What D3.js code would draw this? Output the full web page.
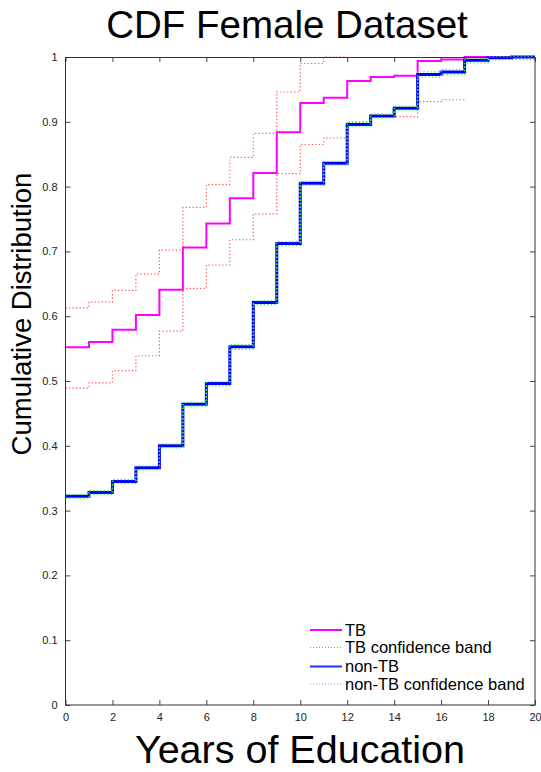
<!DOCTYPE html>
<html>
<head>
<meta charset="utf-8">
<script src="https://cdn.jsdelivr.net/npm/d3@7"></script>
<style>
  body { margin: 0; background: #fff; }
  svg { display: block; font-family: Arial, "Liberation Sans", sans-serif; }
</style>
</head>
<body>
<div id="chart"></div>
<script>
// values per one-year step, the step starting at years[i]
var years = [0, 1, 2, 3, 4, 5, 6, 7, 8, 9, 10, 11, 12, 13, 14, 15, 16, 17, 18, 19, 20];
var tbCdf = [0.552, 0.560, 0.579, 0.602, 0.641, 0.706, 0.743, 0.782, 0.821, 0.884,
             0.929, 0.937, 0.963, 0.969, 0.971, 0.994, 0.996, 1, 1, 1];
var tbUpper = [0.613, 0.622, 0.640, 0.665, 0.702, 0.768, 0.803, 0.845, 0.882, 0.946,
               0.990, 1];
var tbLower = [0.489, 0.497, 0.516, 0.539, 0.577, 0.643, 0.679, 0.718, 0.758, 0.820,
               0.865, 0.875, 0.900, 0.907, 0.908, 0.931, 0.934];
var nonTbCdf = [0.322, 0.328, 0.345, 0.366, 0.400, 0.464, 0.496, 0.553, 0.621, 0.712,
                0.805, 0.836, 0.896, 0.909, 0.921, 0.973, 0.977, 0.995, 0.999, 1];
var nonTbUpper = [0.325, 0.331, 0.348, 0.369, 0.403, 0.467, 0.499, 0.556, 0.624, 0.715,
                  0.808, 0.839, 0.899, 0.912, 0.924, 0.977, 0.981, 0.998, 1, 1];
var nonTbLower = [0.319, 0.325, 0.342, 0.363, 0.397, 0.461, 0.493, 0.549, 0.618, 0.709,
                  0.802, 0.833, 0.893, 0.906, 0.918, 0.969, 0.973, 0.991, 0.996, 0.996];
var xTicks = [0, 2, 4, 6, 8, 10, 12, 14, 16, 18, 20];
var yTicks = [0, 0.1, 0.2, 0.3, 0.4, 0.5, 0.6, 0.7, 0.8, 0.9, 1];
var legendLabels = ["TB", "TB confidence band", "non-TB", "non-TB confidence band"];

var W = 541, H = 772;
var svg = d3.select("#chart").append("svg").attr("width", W).attr("height", H);

var x = d3.scaleLinear().domain([0, 20]).range([65.5, 535]);
var y = d3.scaleLinear().domain([0, 1]).range([705, 57]);

// title + axis labels
svg.append("text").attr("x", 287).attr("y", 38).attr("text-anchor", "middle")
    .attr("font-size", 38.5).text("CDF Female Dataset");
svg.append("text").attr("x", 300).attr("y", 763).attr("text-anchor", "middle")
    .attr("font-size", 39.5).text("Years of Education");
svg.append("text").attr("transform", "translate(31,314) rotate(-90)")
    .attr("text-anchor", "middle").attr("font-size", 27.5).text("Cumulative Distribution");

// axes, ticks inward on all four sides
var noLabel = function () { return ""; };
var axBottom = d3.axisBottom(x).tickValues(xTicks).tickSizeInner(-5).tickSizeOuter(0)
    .tickPadding(8).tickFormat(d3.format("d"));
var axTop = d3.axisTop(x).tickValues(xTicks).tickSizeInner(-5).tickSizeOuter(0).tickFormat(noLabel);
var axLeft = d3.axisLeft(y).tickValues(yTicks).tickSizeInner(-5).tickSizeOuter(0)
    .tickPadding(8).tickFormat(function (d) { return d === 0 || d === 1 ? d : d3.format(".1f")(d); });
var axRight = d3.axisRight(y).tickValues(yTicks).tickSizeInner(-5).tickSizeOuter(0).tickFormat(noLabel);

function styleAxis(g) {
    g.select(".domain").remove();
    g.selectAll("line").attr("stroke", "#444");
    g.selectAll("text").attr("font-size", 11).attr("fill", "#222")
        .attr("font-family", "Arial, 'Liberation Sans', sans-serif");
}
svg.append("g").attr("transform", "translate(0,705)").call(axBottom).call(styleAxis);
svg.append("g").attr("transform", "translate(0,57)").call(axTop).call(styleAxis);
svg.append("g").attr("transform", "translate(65.5,0)").call(axLeft).call(styleAxis);
svg.append("g").attr("transform", "translate(535,0)").call(axRight).call(styleAxis);

// stairs
var line = d3.line()
    .x(function (d) { return x(d[0]); })
    .y(function (d) { return y(d[1]); })
    .curve(d3.curveStepAfter);

function steps(vals) {
    var pts = vals.map(function (v, i) { return [years[i], v]; });
    pts.push([years[vals.length], vals[vals.length - 1]]);
    return pts;
}

var series = [
    { vals: tbCdf, color: "#ff00ff", width: 2, dash: null },
    { vals: tbUpper, color: "#ff4d4d", width: 1.2, dash: "1.2,2.3" },
    { vals: tbLower, color: "#ff4d4d", width: 1.2, dash: "1.2,2.3" },
    { vals: nonTbCdf, color: "#0000ff", width: 3, dash: null },
    { vals: nonTbUpper, color: "#44ee44", width: 1.3, dash: "1.3,2.2" },
    { vals: nonTbLower, color: "#44ee44", width: 1.3, dash: "1.3,2.2" }
];

svg.append("g").selectAll("path").data(series).enter().append("path")
    .attr("d", function (d) { return line(steps(d.vals)); })
    .attr("fill", "none")
    .attr("stroke", function (d) { return d.color; })
    .attr("stroke-width", function (d) { return d.width; })
    .attr("stroke-dasharray", function (d) { return d.dash; });

// frame
svg.append("rect").attr("x", 65.5).attr("y", 57.5).attr("width", 469.5).attr("height", 647.5)
    .attr("fill", "none").attr("stroke", "#333").attr("stroke-width", 1);

// legend
var legendStyle = [
    { color: "#ff00ff", width: 2, dash: null },
    { color: "#ff6666", width: 1, dash: "1,2" },
    { color: "#2233ee", width: 2, dash: null },
    { color: "#66aaff", width: 1, dash: "1,2" }
];
var legendY = [630, 647.5, 666.5, 684];
var lg = svg.append("g").selectAll("g").data(legendLabels).enter().append("g")
    .attr("transform", function (d, i) { return "translate(0," + legendY[i] + ")"; });
lg.append("line").attr("x1", 310).attr("x2", 342).attr("y1", 0).attr("y2", 0)
    .attr("stroke", function (d, i) { return legendStyle[i].color; })
    .attr("stroke-width", function (d, i) { return legendStyle[i].width; })
    .attr("stroke-dasharray", function (d, i) { return legendStyle[i].dash; });
lg.append("text").attr("x", 345).attr("y", 5.5).attr("font-size", 16.5).attr("fill", "#000")
    .text(function (d) { return d; });
</script>
</body>
</html>
